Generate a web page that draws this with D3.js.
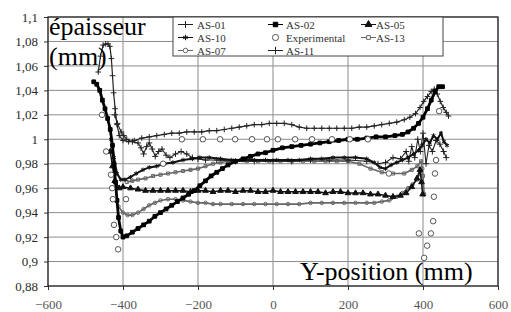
<!DOCTYPE html>
<html>
<head>
<meta charset="utf-8">
<title>épaisseur</title>
<script src="https://cdn.jsdelivr.net/npm/d3@7"></script>
<style>
body { margin: 0; background: #fff; }
svg { display: block; }
svg text { font-family: "Liberation Serif", "Times New Roman", Tinos, "DejaVu Serif", serif; }
</style>
</head>
<body>
<svg width="511" height="312"></svg>
<script>
var serif = "'Liberation Serif', 'Times New Roman', Tinos, 'DejaVu Serif', serif";

// axis ticks
var xTicks = [-600, -400, -200, 0, 200, 400, 600];
var yTicks = [0.88, 0.9, 0.92, 0.94, 0.96, 0.98, 1, 1.02, 1.04, 1.06, 1.08, 1.1];
var yLabels = ["0,88", "0,9", "0,92", "0,94", "0,96", "0,98", "1", "1,02", "1,04", "1,06", "1,08", "1,1"];

// series values (Y-position mm, thickness mm)
var as01X = [-466,-460,-453,-446,-440,-435,-431,-428,-425,-421,-416,-410,-400,-385,-370,-350,-330,-310,-290,-270,-250,-230,-210,-190,-170,-150,-130,-110,-90,-70,-50,-30,-10,10,30,50,70,90,110,130,150,170,190,210,230,250,270,290,310,330,350,365,380,392,402,412,422,430,438,446,454,462,468];
var as01Y = [1.055,1.068,1.077,1.078,1.078,1.076,1.066,1.052,1.038,1.025,1.012,1.003,0.999,0.998,0.999,1.001,1.002,1.003,1.004,1.005,1.005,1.006,1.006,1.006,1.007,1.007,1.008,1.009,1.010,1.011,1.012,1.012,1.013,1.013,1.013,1.012,1.010,1.009,1.009,1.009,1.009,1.009,1.009,1.009,1.010,1.010,1.011,1.012,1.013,1.014,1.016,1.018,1.021,1.026,1.031,1.035,1.039,1.041,1.037,1.031,1.026,1.022,1.019];

var as02X = [-478,-470,-462,-455,-448,-441,-434,-428,-424,-420,-416,-412,-406,-400,-390,-375,-360,-345,-330,-315,-300,-285,-270,-255,-240,-225,-210,-195,-180,-165,-150,-135,-120,-100,-80,-60,-40,-20,0,25,50,75,100,125,150,175,200,225,250,275,300,325,345,360,375,388,400,412,422,432,442,452];
var as02Y = [1.047,1.045,1.040,1.032,1.025,1.017,1.008,0.995,0.980,0.965,0.950,0.936,0.925,0.920,0.921,0.924,0.927,0.930,0.933,0.937,0.940,0.943,0.946,0.949,0.952,0.955,0.958,0.962,0.966,0.970,0.973,0.976,0.979,0.982,0.984,0.986,0.988,0.989,0.991,0.993,0.994,0.995,0.996,0.997,0.998,0.999,1.000,1.000,1.001,1.002,1.002,1.003,1.004,1.006,1.009,1.013,1.018,1.025,1.032,1.039,1.043,1.043];

var as05X = [-434,-428,-422,-416,-410,-400,-380,-360,-340,-320,-300,-280,-260,-240,-220,-200,-180,-160,-140,-120,-100,-80,-60,-40,-20,0,20,40,60,80,100,120,140,160,180,200,220,240,260,280,300,320,340,355,370,384,392,396,399];
var as05Y = [0.990,0.978,0.966,0.961,0.960,0.961,0.960,0.959,0.958,0.958,0.958,0.958,0.958,0.958,0.957,0.958,0.958,0.957,0.958,0.958,0.957,0.958,0.958,0.957,0.957,0.958,0.957,0.957,0.957,0.957,0.957,0.957,0.956,0.957,0.957,0.956,0.956,0.956,0.955,0.955,0.954,0.953,0.954,0.956,0.961,0.968,0.975,0.965,0.955];

var as10X = [-432,-424,-416,-406,-395,-380,-365,-347,-330,-310,-290,-267,-240,-215,-195,-170,-140,-110,-80,-50,-20,10,40,70,100,130,160,190,220,250,270,285,300,315,330,345,360,375,388,398,408,418,428,438,448,456,464];
var as10Y = [1.000,0.985,0.972,0.967,0.967,0.969,0.972,0.975,0.977,0.978,0.980,0.981,0.983,0.984,0.985,0.985,0.984,0.983,0.983,0.983,0.983,0.983,0.983,0.983,0.984,0.984,0.985,0.985,0.985,0.984,0.981,0.977,0.976,0.979,0.981,0.983,0.985,0.988,0.991,0.995,1.000,0.997,1.003,1.000,1.005,0.998,0.995];

var expX = [-456,-445,-432,-429,-427,-424,-418,-413,-392,-293,-243,-187,-141,-101,-56,-16,13,59,104,157,205,253,309,389,403,411,421,427,429,432,435,443];
var expY = [1.020,0.990,0.971,0.960,0.951,0.930,0.920,0.910,0.951,0.980,1.000,1.000,1.000,1.000,1.000,1.000,1.000,1.000,1.000,1.000,1.000,1.000,0.972,0.923,0.903,0.913,0.923,0.933,0.953,0.972,0.983,1.023];

var as13X = [-390,-375,-360,-340,-320,-300,-280,-260,-240,-220,-200,-180,-160,-140,-120,-100,-70,-40,-10,20,50,80,110,140,170,200,230,260,290,320,350,370,385,395,400,403];
var as13Y = [0.965,0.966,0.967,0.968,0.970,0.971,0.972,0.973,0.974,0.975,0.976,0.978,0.980,0.981,0.982,0.982,0.982,0.982,0.982,0.982,0.982,0.982,0.982,0.982,0.982,0.982,0.980,0.976,0.973,0.972,0.972,0.975,0.978,0.982,0.970,0.955];

var as07X = [-412,-400,-388,-375,-360,-345,-330,-315,-300,-280,-260,-240,-220,-200,-180,-160,-140,-110,-80,-50,-20,10,40,70,100,130,160,190,220,250,270,290,310,330,345,360,372,384,392,398];
var as07Y = [0.945,0.940,0.938,0.938,0.940,0.943,0.946,0.948,0.950,0.951,0.951,0.950,0.949,0.948,0.948,0.947,0.947,0.947,0.947,0.947,0.947,0.947,0.947,0.947,0.948,0.948,0.948,0.948,0.948,0.948,0.948,0.949,0.950,0.953,0.956,0.960,0.963,0.967,0.972,0.976];

var as11X = [-422,-415,-405,-398,-390,-375,-360,-352,-345,-337,-330,-322,-314,-305,-296,-285,-275,-260,-245,-230,-215,-200,-180,-150,-100,-50,0,50,100,150,200,250,280,300,320,340,355,362,370,378,386,393,400,408,416,425,435,445,455,462];
var as11Y = [1.020,1.013,1.006,1.003,1.000,0.998,0.997,0.993,0.988,0.994,0.997,0.992,0.986,0.990,0.992,0.987,0.985,0.988,0.990,0.988,0.985,0.984,0.983,0.983,0.982,0.982,0.982,0.982,0.983,0.983,0.983,0.982,0.980,0.981,0.985,0.984,0.990,0.982,0.994,0.985,1.000,0.990,1.005,0.980,0.995,0.990,0.999,0.996,0.990,0.985];

var svg = d3.select("svg");

var x = d3.scaleLinear().domain([-600, 600]).range([48, 498]);
var y = d3.scaleLinear().domain([0.88, 1.1]).range([286, 17]);

// grid
svg.append("g").selectAll("line.h")
  .data(yTicks).enter().append("line")
  .attr("x1", x(-600)).attr("x2", x(600))
  .attr("y1", function(d){ return y(d); }).attr("y2", function(d){ return y(d); })
  .attr("stroke", "#8c8c8c").attr("stroke-width", 1);
svg.append("g").selectAll("line.v")
  .data(xTicks).enter().append("line")
  .attr("x1", function(d){ return x(d); }).attr("x2", function(d){ return x(d); })
  .attr("y1", y(1.1)).attr("y2", y(0.88))
  .attr("stroke", "#8c8c8c").attr("stroke-width", 1);

// axes with short outside ticks
var yAxis = svg.append("g")
  .attr("transform", "translate(" + x(-600) + ",0)")
  .call(d3.axisLeft(y).tickValues(yTicks).tickSize(4).tickPadding(6)
        .tickFormat(function(d, i){ return yLabels[i]; }));
var xAxis = svg.append("g")
  .attr("transform", "translate(0," + y(0.88) + ")")
  .call(d3.axisBottom(x).tickValues(xTicks).tickSize(4).tickPadding(10));
[yAxis, xAxis].forEach(function(a){
  a.attr("font-family", serif);
  a.select(".domain").remove();
  a.selectAll("line").attr("stroke", "#333");
  a.selectAll("text").attr("font-family", serif).attr("font-size", 13);
});
yAxis.selectAll("text").attr("fill", "#2a2a2a");
xAxis.selectAll("text").attr("fill", "#555");

// frame
svg.append("rect")
  .attr("x", x(-600)).attr("y", y(1.1))
  .attr("width", x(600) - x(-600)).attr("height", y(0.88) - y(1.1))
  .attr("fill", "none").attr("stroke", "#222").attr("stroke-width", 1.2);

var series = [
  {name: "AS-01", xs: as01X, ys: as01Y, line: true, width: 1.2, color: "#222", sym: d3.symbolPlus, size: 12, fill: false},
  {name: "AS-02", xs: as02X, ys: as02Y, line: true, width: 2.8, color: "#000", sym: d3.symbolSquare, size: 14, fill: true},
  {name: "AS-05", xs: as05X, ys: as05Y, line: true, width: 1.5, color: "#111", sym: d3.symbolTriangle, size: 14, fill: true},
  {name: "AS-10", xs: as10X, ys: as10Y, line: true, width: 2, color: "#111", sym: d3.symbolAsterisk, size: 14, fill: false},
  {name: "Experimental", xs: expX, ys: expY, line: false, width: 1, color: "#555", sym: d3.symbolCircle, size: 24, fill: false},
  {name: "AS-13", xs: as13X, ys: as13Y, line: true, width: 1.6, color: "#666", sym: d3.symbolSquare2, size: 12, fill: false},
  {name: "AS-07", xs: as07X, ys: as07Y, line: true, width: 1.6, color: "#666", sym: d3.symbolCircle, size: 10, fill: false},
  {name: "AS-11", xs: as11X, ys: as11Y, line: true, width: 1.1, color: "#222", sym: d3.symbolPlus, size: 14, fill: false}
];

var line = d3.line().x(function(d){ return x(d[0]); }).y(function(d){ return y(d[1]); });

// draw in back-to-front order
[6, 5, 2, 7, 3, 0, 1, 4].forEach(function(i){
  var s = series[i];
  var pts = d3.zip(s.xs, s.ys);
  var g = svg.append("g");
  if (s.line) {
    g.append("path").datum(pts).attr("d", line)
      .attr("fill", "none").attr("stroke", s.color).attr("stroke-width", s.width);
  }
  g.selectAll("path.m").data(pts).enter().append("path")
    .attr("class", "m")
    .attr("transform", function(d){ return "translate(" + x(d[0]) + "," + y(d[1]) + ")"; })
    .attr("d", d3.symbol().type(s.sym).size(s.size))
    .attr("fill", s.fill ? s.color : (s.line ? "none" : "#fff"))
    .attr("stroke", s.color).attr("stroke-width", 1);
});

// legend
var legend = svg.append("g");
legend.append("rect").attr("x", 173).attr("y", 17).attr("width", 270).attr("height", 39)
  .attr("fill", "#fff").attr("stroke", "#444").attr("stroke-width", 1);
var colSym = [178, 268, 361], colText = [197, 286, 376], rowBase = [28.5, 41.5, 54.5];
series.forEach(function(s, i){
  var c = i % 3, r = Math.floor(i / 3);
  var cy = rowBase[r] - 4;
  var gx = legend.append("g");
  if (s.line) {
    gx.append("line").attr("x1", colSym[c]).attr("x2", colSym[c] + 15)
      .attr("y1", cy).attr("y2", cy).attr("stroke", s.color).attr("stroke-width", 1);
  }
  gx.append("path")
    .attr("transform", "translate(" + (colSym[c] + 7.5) + "," + cy + ")")
    .attr("d", d3.symbol().type(s.sym).size(s.size + 6))
    .attr("fill", s.fill ? s.color : "#fff")
    .attr("stroke", s.color).attr("stroke-width", 1);
  gx.append("text").attr("x", colText[c]).attr("y", rowBase[r])
    .attr("font-family", serif).attr("font-size", 11).attr("fill", "#333").text(s.name);
});

// overlaid axis titles
[["épaisseur", 49, 35], ["(mm)", 49, 65], ["Y-position (mm)", 300, 280]].forEach(function(t){
  svg.append("text").attr("x", t[1]).attr("y", t[2])
    .attr("font-family", serif).attr("font-size", 26).attr("fill", "#000").text(t[0]);
});
</script>
</body>
</html>
